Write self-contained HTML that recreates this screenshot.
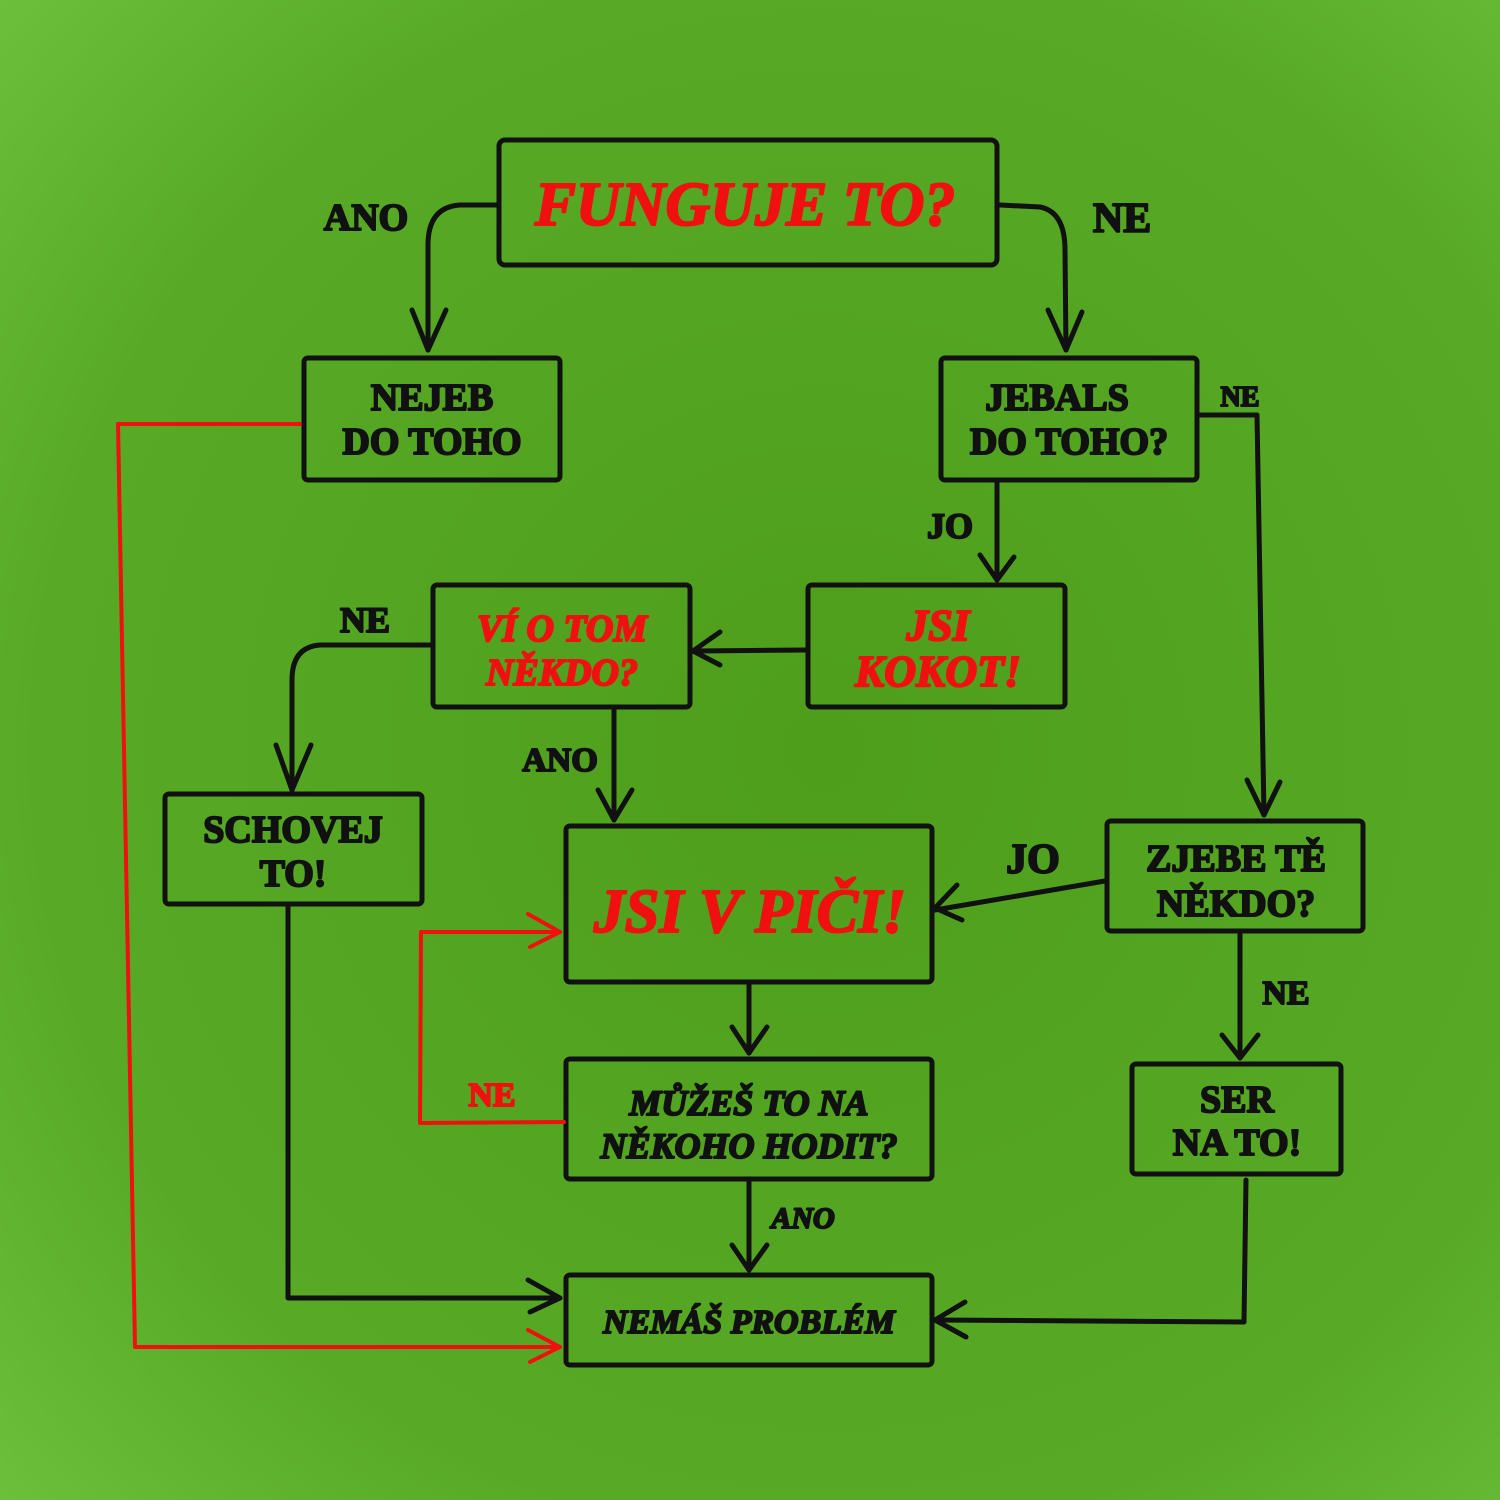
<!DOCTYPE html>
<html><head><meta charset="utf-8"><style>
html,body{margin:0;padding:0;width:1500px;height:1500px;overflow:hidden}
svg{display:block}
text{font-family:"Liberation Serif","DejaVu Serif",serif;font-weight:bold;text-anchor:middle;stroke-width:2;stroke-linejoin:round}
.k{fill:#111;stroke:#111}.r{fill:#f01010;stroke:#f01010}
</style></head><body>
<svg width="1500" height="1500" viewBox="0 0 1500 1500">
<defs>
<radialGradient id="bg" cx="0.55" cy="0.5" r="0.75">
<stop offset="0" stop-color="#4e9e1c"/><stop offset="0.7" stop-color="#58aa26"/><stop offset="1" stop-color="#6cc03c"/>
</radialGradient>
</defs>
<rect width="1500" height="1500" fill="url(#bg)"/>
<g fill="none" stroke="#111" stroke-width="5" stroke-linejoin="round" stroke-linecap="round">
<rect x="499" y="140" width="498" height="125" rx="6"/>
<rect x="304" y="358" width="256" height="122" rx="4"/>
<rect x="941" y="358" width="256" height="122" rx="4"/>
<rect x="433" y="585" width="257" height="122" rx="4"/>
<rect x="808" y="585" width="257" height="122" rx="4"/>
<rect x="165" y="794" width="257" height="110" rx="4"/>
<rect x="566" y="826" width="366" height="156" rx="4"/>
<rect x="1107" y="821" width="256" height="110" rx="4"/>
<rect x="566" y="1059" width="366" height="120" rx="4"/>
<rect x="1132" y="1064" width="209" height="110" rx="4"/>
<rect x="566" y="1275" width="366" height="90" rx="4"/>
<path d="M497 205 L460 205 Q428 207 428 245 L428 350"/>
<path d="M412 310 L428 350 L446 310"/>
<path d="M1000 205 L1040 207 Q1065 212 1065 250 L1066 350"/>
<path d="M1048 310 L1066 350 L1082 312"/>
<path d="M1200 415 L1257 415 L1264 815"/>
<path d="M1247 780 L1264 815 L1280 782"/>
<path d="M997 482 L997 580"/><path d="M980 555 L997 580 L1014 557"/>
<path d="M806 650 L695 651"/><path d="M720 632 L693 651 L720 665"/>
<path d="M431 645 L320 645 Q292 647 292 680 L292 790"/><path d="M276 745 L292 790 L311 745"/>
<path d="M614 709 L614 820"/><path d="M598 790 L614 820 L632 790"/>
<path d="M1105 881 L935 910"/><path d="M957 885 L935 908 L962 920"/>
<path d="M749 984 L749 1053"/><path d="M732 1027 L749 1053 L767 1027"/>
<path d="M1240 933 L1240 1058"/><path d="M1222 1035 L1240 1058 L1258 1035"/>
<path d="M749 1181 L749 1270"/><path d="M732 1245 L749 1270 L767 1245"/>
<path d="M288 906 L288 1298 L560 1298"/><path d="M528 1280 L560 1298 L530 1312"/>
<path d="M1246 1180 L1244 1322 L935 1320"/><path d="M965 1302 L935 1320 L966 1337"/>
</g>
<g fill="none" stroke="#f01010" stroke-width="4" stroke-linejoin="round" stroke-linecap="round">
<path d="M300 424 L118 424 L135 1347 L560 1347"/><path d="M528 1330 L560 1347 L530 1362"/>
<path d="M564 1122 L420 1123 L421 932 L560 932"/><path d="M528 914 L560 932 L530 947"/>
</g>
<text x="745" y="225" class="r" font-size="62" font-style="italic" stroke-width="3">FUNGUJE TO?</text>
<text x="366" y="230" class="k" font-size="38">ANO</text>
<text x="1122" y="232" class="k" font-size="42">NE</text>
<text x="432" y="410" class="k" font-size="38">NEJEB</text>
<text x="432" y="454" class="k" font-size="38">DO TOHO</text>
<text x="1057" y="410" class="k" font-size="38">JEBALS</text>
<text x="1069" y="454" class="k" font-size="38">DO TOHO?</text>
<text x="1240" y="406" class="k" font-size="28">NE</text>
<text x="950" y="538" class="k" font-size="36">JO</text>
<text x="562" y="641" class="r" font-size="38" font-style="italic">VÍ O TOM</text>
<text x="562" y="685" class="r" font-size="38" font-style="italic">NĚKDO?</text>
<text x="938" y="640" class="r" font-size="44" font-style="italic">JSI</text>
<text x="938" y="686" class="r" font-size="44" font-style="italic">KOKOT!</text>
<text x="365" y="632" class="k" font-size="36">NE</text>
<text x="560" y="771" class="k" font-size="34">ANO</text>
<text x="293" y="842" class="k" font-size="38">SCHOVEJ</text>
<text x="293" y="886" class="k" font-size="38">TO!</text>
<text x="750" y="932" class="r" font-size="62" font-style="italic" stroke-width="3">JSI V PIČI!</text>
<text x="1033" y="873" class="k" font-size="42">JO</text>
<text x="1236" y="871" class="k" font-size="38">ZJEBE TĚ</text>
<text x="1236" y="916" class="k" font-size="38">NĚKDO?</text>
<text x="1286" y="1004" class="k" font-size="34">NE</text>
<text x="749" y="1115" class="k" font-size="36" font-style="italic">MŮŽEŠ TO NA</text>
<text x="749" y="1158" class="k" font-size="36" font-style="italic">NĚKOHO HODIT?</text>
<text x="492" y="1106" class="r" font-size="34">NE</text>
<text x="1237" y="1112" class="k" font-size="38">SER</text>
<text x="1237" y="1155" class="k" font-size="38">NA TO!</text>
<text x="803" y="1228" class="k" font-size="30" font-style="italic">ANO</text>
<text x="749" y="1333" class="k" font-size="34" font-style="italic">NEMÁŠ PROBLÉM</text>
</svg>
</body></html>
